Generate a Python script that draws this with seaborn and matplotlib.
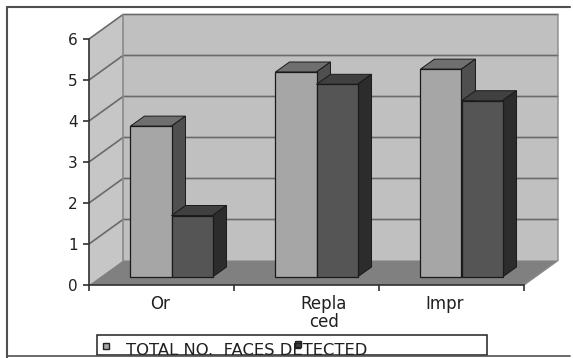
import matplotlib
matplotlib.use("Agg")
import matplotlib.pyplot as plt
from matplotlib.patches import Polygon, Rectangle
import pandas as pd
import seaborn as sns

categories = ["Or", "Repla\nced", "Impr"]
total_faces = [3.68, 5.0, 5.07]
second_series = [1.5, 4.7, 4.3]
y_ticks = [0, 1, 2, 3, 4, 5, 6]
legend_label = "TOTAL NO.  FACES DETECTED"

sns.set_theme(style="white")
plt.rcParams["font.family"] = ["DejaVu Sans"]

W, H = 573, 358
fig = plt.figure(figsize=(W / 100, H / 100), dpi=100, facecolor="white")
L, R, B, T = 89, 524, 285, 39
ax = fig.add_axes([L / W, (H - B) / H, (R - L) / W, (B - T) / H])

df = pd.DataFrame({
    "cat": categories * 2,
    "val": total_faces + second_series,
    "series": ["a"] * 3 + ["b"] * 3,
})
sns.barplot(data=df, x="cat", y="val", hue="series", hue_order=["a", "b"],
            palette=["#a6a6a6", "#555555"], width=0.566, gap=0, dodge=True,
            legend=False, saturation=1, ax=ax, edgecolor="#1a1a1a", linewidth=0.9)
ax.set_xlim(-0.5, 2.5)
ax.set_ylim(0, 6)
ax.set_xlabel("")
ax.set_ylabel("")
ax.set_facecolor("none")

ux = (R - L) / 3   # px per category
uy = (B - T) / 6   # px per unit
wall_dx, wall_dy = 34 / ux, 24.5 / uy
bar_dx, bar_dy = 10 / ux, 8 / uy
deep_dx, deep_dy = 14 / ux, 10 / uy
x0, x1 = -0.5, 2.5


def poly(pts, fc, ec="none", lw=0, z=1):
    ax.add_patch(Polygon(pts, closed=True, facecolor=fc, edgecolor=ec,
                         linewidth=lw, zorder=z, clip_on=False))


# walls and floor
poly([(x0 + wall_dx, wall_dy), (x1 + wall_dx, wall_dy), (x1 + wall_dx, 6 + wall_dy), (x0 + wall_dx, 6 + wall_dy)], "#c0c0c0")
poly([(x0, 0), (x0 + wall_dx, wall_dy), (x0 + wall_dx, 6 + wall_dy), (x0, 6)], "#c6c6c6")
poly([(x0, 0), (x1, 0), (x1 + wall_dx, wall_dy), (x0 + wall_dx, wall_dy)], "#808080")
for v in y_ticks[1:]:
    ax.plot([x0, x0 + wall_dx, x1 + wall_dx], [v, v + wall_dy, v + wall_dy],
            color="#6a6a6a", lw=1.2, zorder=1.5, clip_on=False)
ax.plot([x0 + wall_dx, x0 + wall_dx], [wall_dy, 6 + wall_dy], color="#8a8a8a", lw=1.2, zorder=1.5, clip_on=False)
ax.plot([x1, x1 + wall_dx, x1 + wall_dx], [0, wall_dy, 6 + wall_dy], color="#8a8a8a", lw=1.0, zorder=1.5, clip_on=False)

# bars: shift off the axis plane and extrude them
styles = [("#6f6f6f", "#4f4f4f", 3), ("#404040", "#2c2c2c", 4)]
n = len(categories)
for i, bar in enumerate(ax.patches[:2 * n]):
    top_c, side_c, z = styles[i // n]
    bar.set_x(bar.get_x() + bar_dx)
    bar.set_y(bar_dy)
    bar.set_zorder(z + 0.1)
    bar.set_clip_on(False)
    xa, xb = bar.get_x(), bar.get_x() + bar.get_width()
    yb, yt = bar.get_y(), bar.get_y() + bar.get_height()
    poly([(xa, yt), (xb, yt), (xb + deep_dx, yt + deep_dy), (xa + deep_dx, yt + deep_dy)],
         top_c, "#1a1a1a", 0.7, z)
    poly([(xb, yb), (xb + deep_dx, yb + deep_dy), (xb + deep_dx, yt + deep_dy), (xb, yt)],
         side_c, "#1a1a1a", 0.7, z)

# axes
for s in ["top", "right"]:
    ax.spines[s].set_visible(False)
for s in ["left", "bottom"]:
    ax.spines[s].set_color("#303030")
    ax.spines[s].set_linewidth(1.2)
    ax.spines[s].set_zorder(6)
ax.set_yticks(y_ticks)
ax.set_xticks([-0.5, 0.5, 1.5, 2.5])
ax.set_xticklabels([])
ax.tick_params(axis="y", length=4, width=1.2, color="#303030", left=True, pad=4,
               labelsize=11, labelcolor="#202020")
ax.tick_params(axis="x", length=4, width=1.2, color="#303030", bottom=True)

# category labels, as placed in the original
label_px = [160, 324, 445]
for name, px in zip(categories, label_px):
    fig.text(px / W, 1 - 295 / H, name, ha="center", va="top", fontsize=12,
             color="#202020", linespacing=1.0)

# outer frame
fig.add_artist(plt.Line2D([7 / W, 7 / W], [0, 1 - 7 / H], color="#505050", lw=1.5))
fig.add_artist(plt.Line2D([7 / W, 570 / W], [1 - 7 / H, 1 - 7 / H], color="#505050", lw=1.5))
fig.add_artist(plt.Line2D([7 / W, 570 / W], [1 - 356 / H, 1 - 356 / H], color="#505050", lw=1.2))

# legend
fig.add_artist(Rectangle((97 / W, 1 - 355 / H), 390 / W, 20 / H, transform=fig.transFigure,
                         facecolor="white", edgecolor="#202020", linewidth=1.1))
fig.add_artist(Rectangle((103 / W, 1 - 349 / H), 6 / W, 6 / H, transform=fig.transFigure,
                         facecolor="#a6a6a6", edgecolor="#202020", linewidth=1.0))
fig.add_artist(Rectangle((295 / W, 1 - 347 / H), 6 / W, 6 / H, transform=fig.transFigure,
                         facecolor="#404040", edgecolor="#202020", linewidth=1.0))
fig.text(126 / W, 1 - 355 / H, legend_label, ha="left", va="baseline", fontsize=11.8, color="#202020")

fig.savefig("out.png", dpi=100)
